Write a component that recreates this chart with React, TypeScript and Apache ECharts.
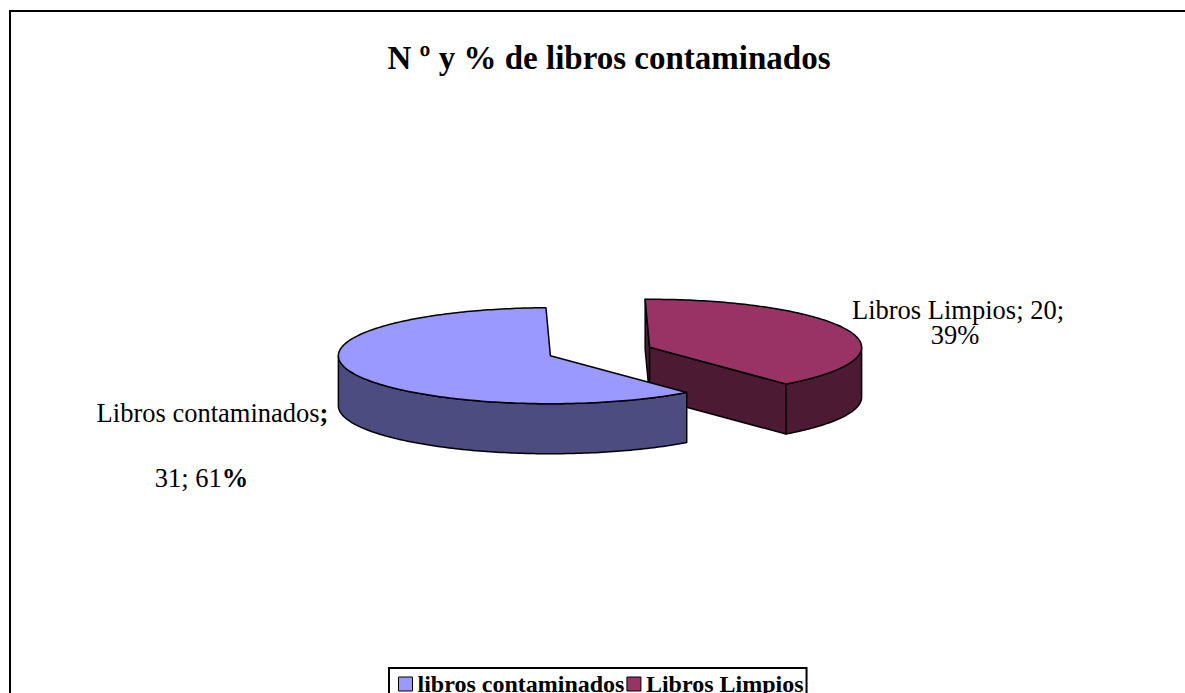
import React, { useEffect, useRef } from "react";
import * as echarts from "echarts";

// ---- data ----
const titleText = "N º y % de libros contaminados";
const categories = ["libros contaminados", "Libros Limpios"]; // legend names
const labelNames = ["Libros contaminados", "Libros Limpios"]; // data label names
const values = [31, 20];
const topColors = ["#9999FF", "#993366"];
const sideColors = ["#4C4C80", "#4D1A33"];

// ---- layout ----
const PIE = { cx: 600, cy: 351.5, rx: 212, ry: 48, depth: 50, explode: 0.25, startAngle: -1.2 };
// boldParts: which label parts have their trailing punctuation in bold
const labelLayout = [
  { lines: [[0], [1, 2]], pos: [[212.5, 412.5], [201.5, 477.5]], boldParts: [true, false, true] },
  { lines: [[0, 1], [2]], pos: [[958, 309.5], [955, 335]], boldParts: [false, false, false] },
];
const FONT = "Liberation Serif";

const total = values.reduce((a, b) => a + b, 0);

function sliceRange(i: number) {
  // drawn counter-clockwise from startAngle (angles measured clockwise from 12 o'clock)
  let cum = 0;
  for (let k = 0; k < i; k++) cum += values[k];
  const a1 = PIE.startAngle - (cum / total) * 360;
  const a0 = a1 - (values[i] / total) * 360;
  let s = a0;
  while (s < 0) s += 360;
  while (s >= 360) s -= 360;
  return [s, s + (a1 - a0)];
}

const rad = (d: number) => (d * Math.PI) / 180;

function rim(c: number[], th: number, dy = 0) {
  return [c[0] + PIE.rx * Math.sin(rad(th)), c[1] - PIE.ry * Math.cos(rad(th)) + dy];
}
function arcPts(c: number[], a: number, b: number, dy: number) {
  const n = Math.max(2, Math.ceil(Math.abs(b - a)));
  const pts: number[][] = [];
  for (let k = 0; k <= n; k++) pts.push(rim(c, a + ((b - a) * k) / n, dy));
  return pts;
}

function renderSlice(params: any) {
  const i = params.seriesIndex;
  const [a0, a1] = sliceRange(i);
  const mid = (a0 + a1) / 2;
  const c = [
    PIE.cx + PIE.explode * PIE.rx * Math.sin(rad(mid)),
    PIE.cy - PIE.explode * PIE.ry * Math.cos(rad(mid)),
  ];
  const stroke = { stroke: "#000", lineWidth: 1.5, lineJoin: "round" };
  const children: any[] = [];
  const wall = (t: number) => ({
    type: "polygon",
    shape: { points: [c, rim(c, t), rim(c, t, PIE.depth), [c[0], c[1] + PIE.depth]] },
    style: { fill: sideColors[i], ...stroke },
  });
  if (-Math.sin(rad(a0)) > 0) children.push(wall(a0));
  if (Math.sin(rad(a1)) > 0) children.push(wall(a1));
  for (const [f0, f1] of [[90, 270], [450, 630]]) {
    const s = Math.max(a0, f0);
    const e = Math.min(a1, f1);
    if (e > s) {
      const top = arcPts(c, s, e, 0);
      const bot = arcPts(c, e, s, PIE.depth);
      children.push({
        type: "polygon",
        shape: { points: top.concat(bot) },
        style: { fill: sideColors[i], ...stroke },
      });
    }
  }
  children.push({
    type: "polygon",
    shape: { points: [c].concat(arcPts(c, a0, a1, 0)) },
    style: { fill: topColors[i], ...stroke },
  });

  // labels
  const pct = Math.round((values[i] / total) * 100);
  const lay = labelLayout[i];
  const punct = (p: string, k: number) => (lay.boldParts[k] ? `{b|${p}}` : p);
  const parts = [
    `${labelNames[i]}${punct(";", 0)}`,
    `${values[i]}${punct(";", 1)}`,
    `${pct}${punct("%", 2)}`,
  ];
  lay.lines.forEach((ln, li) => {
    children.push({
      type: "text",
      style: {
        text: ln.map((k) => parts[k]).join(" "),
        x: lay.pos[li][0],
        y: lay.pos[li][1],
        fill: "#000",
        fontSize: 26.5,
        fontFamily: FONT,
        align: "center",
        verticalAlign: "middle",
        rich: { b: { fontSize: 26.5, fontFamily: FONT, fontWeight: "bold", fill: "#000" } },
      },
    });
  });
  return { type: "group", children };
}

export default function App() {
  const ref = useRef<HTMLDivElement>(null);
  useEffect(() => {
    if (!ref.current) return;
    const chart = echarts.init(ref.current, null, { renderer: "svg" });
    const series = categories.map((name, i) => {
      const [a0, a1] = sliceRange(i);
      const mid = (a0 + a1) / 2;
      return {
        type: "custom",
        name,
        coordinateSystem: "none",
        data: [[values[i]]],
        itemStyle: { color: topColors[i] },
        z: 2 + Math.round((1 - Math.cos(rad(mid))) * 10),
        renderItem: renderSlice,
        silent: true,
      };
    });
    chart.setOption({
      animation: false,
      backgroundColor: "#fff",
      title: {
        text: titleText,
        left: 609,
        top: 41,
        textAlign: "center",
        padding: 0,
        textStyle: { fontSize: 33, fontWeight: "bold", fontFamily: FONT, color: "#000" },
      },
      legend: {
        data: categories,
        left: 389,
        top: 668,
        orient: "horizontal",
        icon: "rect",
        itemWidth: 14,
        itemHeight: 14,
        itemGap: 2,
        padding: [4, 3, 6, 9],
        borderColor: "#000",
        borderWidth: 2,
        selectedMode: false,
        textStyle: { fontFamily: FONT, fontSize: 24, fontWeight: "bold", color: "#000" },
        itemStyle: { borderColor: "#000", borderWidth: 1 },
      },
      graphic: [
        {
          type: "rect",
          shape: { x: 10, y: 11, width: 1210, height: 720 },
          style: { fill: "none", stroke: "#000", lineWidth: 2 },
          z: -10,
        },
      ],
      series,
    });
    return () => chart.dispose();
  }, []);
  return (
    <div
      ref={ref}
      style={{ position: "fixed", left: 0, top: 0, width: 1185, height: 693, background: "#fff" }}
    />
  );
}
